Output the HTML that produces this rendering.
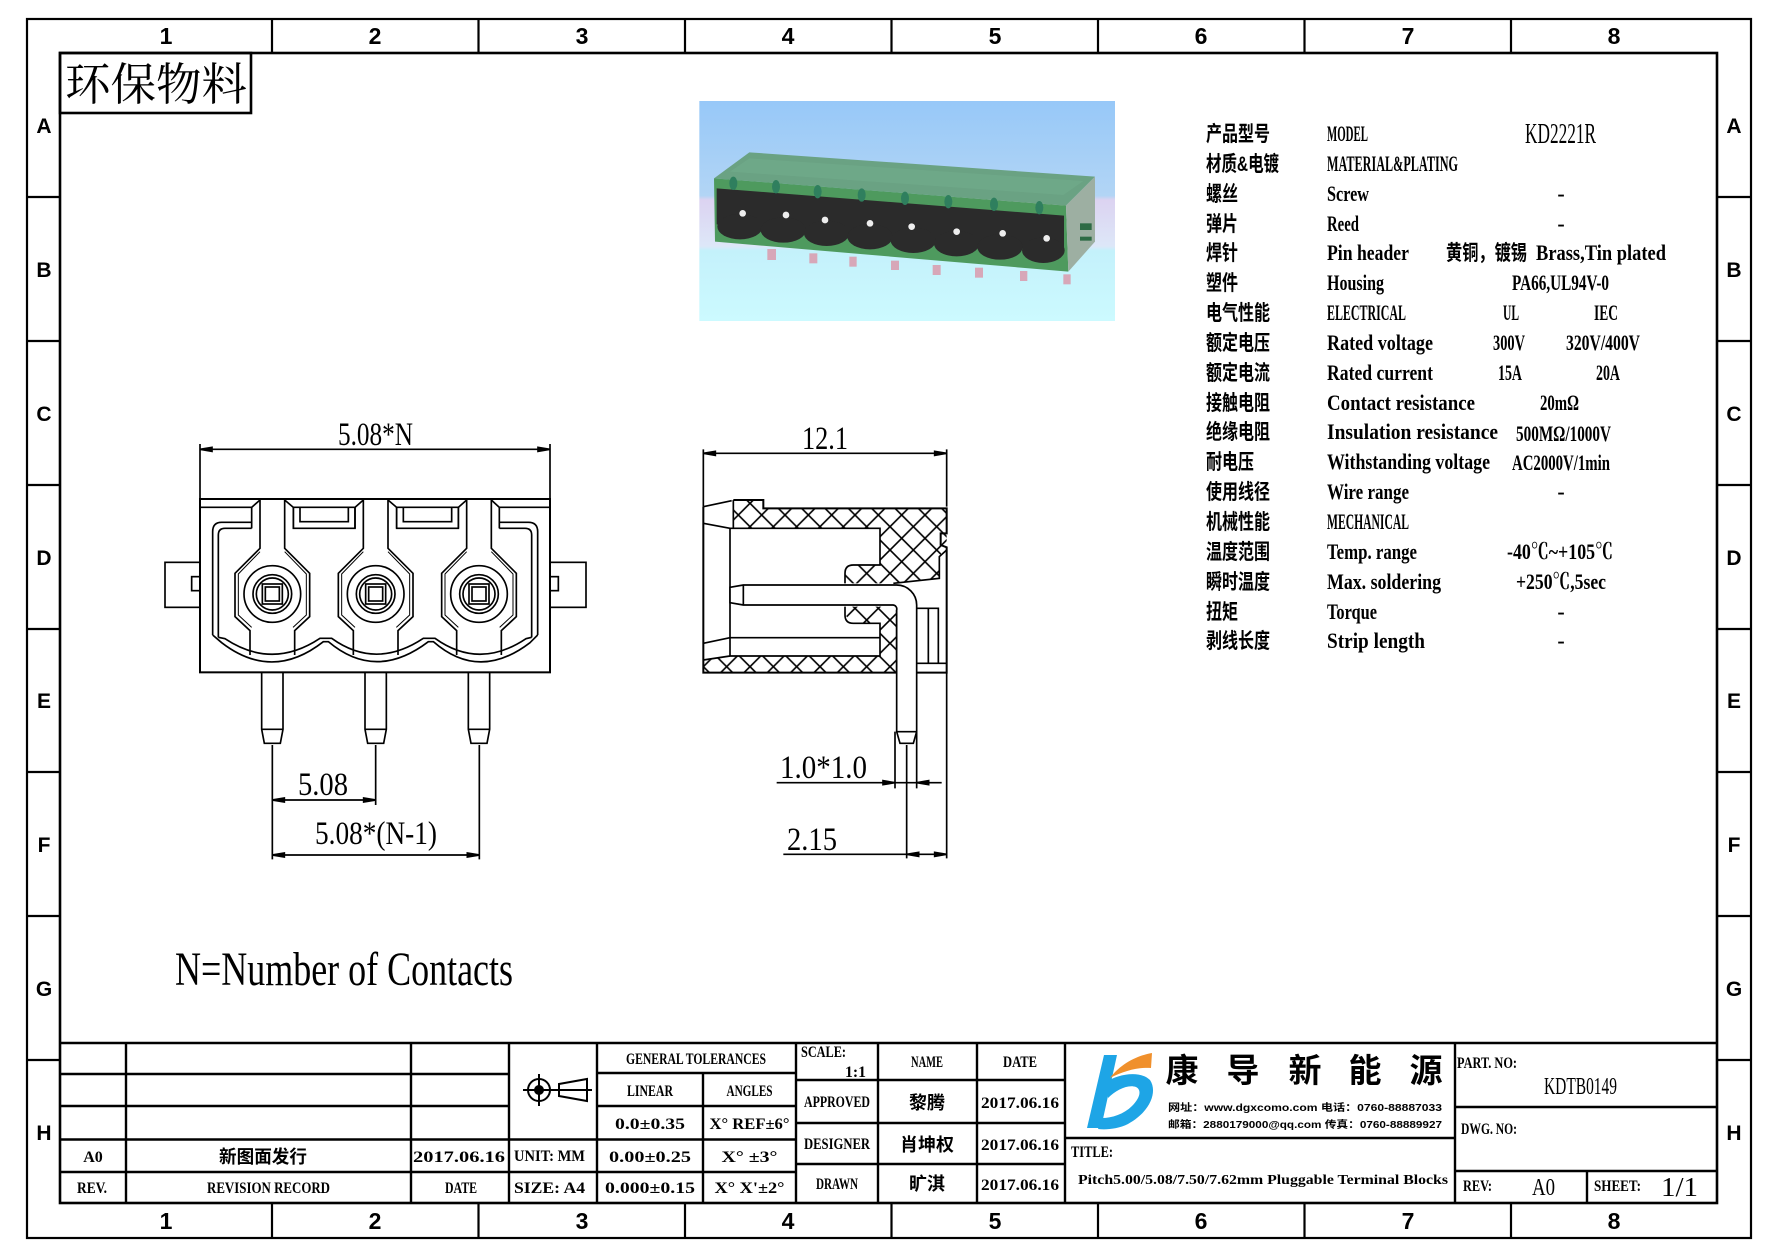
<!DOCTYPE html>
<html><head><meta charset="utf-8"><style>
html,body{margin:0;padding:0;background:#fff;}
svg{display:block;}
.cn{font-family:"Liberation Sans","Noto Sans CJK SC",sans-serif;font-weight:bold;}
.en{font-family:"Liberation Serif","Noto Serif CJK SC",serif;font-weight:bold;}
.lt{font-family:"Liberation Serif","Noto Serif CJK SC",serif;}
.sb{font-family:"Liberation Sans",sans-serif;font-weight:bold;}
</style></head><body>
<svg xmlns="http://www.w3.org/2000/svg" width="1778" height="1257" viewBox="0 0 1778 1257">
<defs>
<pattern id="hx" width="70" height="70" patternUnits="userSpaceOnUse"><path d="M0,0L70,70M70,0L0,70" stroke="#000" stroke-width="5"/></pattern>
<linearGradient id="sky" x1="0" y1="0" x2="0" y2="1">
<stop offset="0" stop-color="#97C8F8"/>
<stop offset="0.43" stop-color="#B2D5F5"/>
<stop offset="0.45" stop-color="#DCD3F1"/>
<stop offset="0.66" stop-color="#DDE7F8"/>
<stop offset="0.68" stop-color="#C4F1FB"/>
<stop offset="1" stop-color="#CCFAFF"/>
</linearGradient>
</defs>
<rect width="1778" height="1257" fill="#fff"/>

<!-- ============ FRAME ============ -->
<g fill="none" stroke="#000">
<rect x="27" y="19" width="1724" height="1219" stroke-width="2.2"/>
<rect x="60" y="53" width="1657" height="1150" stroke-width="2.6"/>
<g stroke-width="2.2">
<path d="M272,19V53M478.5,19V53M685,19V53M891.5,19V53M1098,19V53M1304.5,19V53M1511,19V53"/>
<path d="M272,1203V1238M478.5,1203V1238M685,1203V1238M891.5,1203V1238M1098,1203V1238M1304.5,1203V1238M1511,1203V1238"/>
<path d="M27,197H60M27,341H60M27,485H60M27,629H60M27,772H60M27,916H60M27,1060H60"/>
<path d="M1717,197H1751M1717,341H1751M1717,485H1751M1717,629H1751M1717,772H1751M1717,916H1751M1717,1060H1751"/>
</g>
</g>
<g class="sb" font-size="23" text-anchor="middle">
<text x="166" y="44">1</text><text x="375" y="44">2</text><text x="582" y="44">3</text><text x="788" y="44">4</text>
<text x="995" y="44">5</text><text x="1201" y="44">6</text><text x="1408" y="44">7</text><text x="1614" y="44">8</text>
<text x="166" y="1229">1</text><text x="375" y="1229">2</text><text x="582" y="1229">3</text><text x="788" y="1229">4</text>
<text x="995" y="1229">5</text><text x="1201" y="1229">6</text><text x="1408" y="1229">7</text><text x="1614" y="1229">8</text>
</g>
<g class="sb" font-size="21" text-anchor="middle">
<text x="44" y="133">A</text><text x="44" y="277">B</text><text x="44" y="421">C</text><text x="44" y="565">D</text>
<text x="44" y="708">E</text><text x="44" y="852">F</text><text x="44" y="996">G</text><text x="44" y="1140">H</text>
<text x="1734" y="133">A</text><text x="1734" y="277">B</text><text x="1734" y="421">C</text><text x="1734" y="565">D</text>
<text x="1734" y="708">E</text><text x="1734" y="852">F</text><text x="1734" y="996">G</text><text x="1734" y="1140">H</text>
</g>

<!-- stamp -->
<rect x="60" y="53" width="191" height="60" fill="none" stroke="#000" stroke-width="2.6"/>
<text x="65" y="100" font-size="45" textLength="182" lengthAdjust="spacingAndGlyphs" font-family="'Liberation Serif','Noto Serif CJK SC',serif">环保物料</text>

<!-- ============ PHOTO ============ -->
<g transform="translate(690,95) scale(0.333333)">
<rect x="28" y="18" width="1247" height="660" fill="url(#sky)"/>
<polygon points="72,250 178,172 1215,245 1128,332" fill="#6AA283"/>
<polygon points="120,230 178,190 1180,258 1120,300" fill="#72AB8C" opacity="0.6"/>
<polygon points="72,250 1128,332 1135,530 75,440" fill="#4E9A5E"/>
<polygon points="1128,332 1215,245 1215,440 1135,530" fill="#9DAFA2"/>
<polygon points="80,280 1122,362 1122,470 80,388" fill="#2B2B2B"/>
<g fill="#2B2B2B">
<ellipse cx="150" cy="395" rx="68" ry="38"/><ellipse cx="280" cy="405" rx="68" ry="38"/>
<ellipse cx="410" cy="415" rx="68" ry="38"/><ellipse cx="540" cy="425" rx="68" ry="38"/>
<ellipse cx="670" cy="436" rx="68" ry="38"/><ellipse cx="800" cy="446" rx="68" ry="38"/>
<ellipse cx="930" cy="456" rx="68" ry="38"/><ellipse cx="1060" cy="466" rx="64" ry="38"/>
</g>
<g fill="#2F7F5E">
<ellipse cx="130" cy="265" rx="12" ry="20"/><ellipse cx="258" cy="275" rx="12" ry="20"/>
<ellipse cx="383" cy="290" rx="12" ry="20"/><ellipse cx="515" cy="300" rx="12" ry="20"/>
<ellipse cx="645" cy="310" rx="12" ry="20"/><ellipse cx="775" cy="320" rx="12" ry="20"/>
<ellipse cx="912" cy="328" rx="12" ry="20"/><ellipse cx="1048" cy="338" rx="12" ry="20"/>
</g>
<g fill="#EEEEEE">
<circle cx="158" cy="355" r="10"/><circle cx="288" cy="360" r="10"/><circle cx="405" cy="375" r="10"/>
<circle cx="540" cy="385" r="10"/><circle cx="665" cy="395" r="10"/><circle cx="800" cy="410" r="10"/>
<circle cx="938" cy="415" r="10"/><circle cx="1070" cy="430" r="10"/>
</g>
<g fill="#D7A7B8">
<rect x="232" y="462" width="26" height="33"/><rect x="358" y="475" width="24" height="30"/>
<rect x="478" y="485" width="22" height="30"/><rect x="603" y="497" width="24" height="28"/>
<rect x="728" y="510" width="24" height="30"/><rect x="855" y="518" width="24" height="30"/>
<rect x="990" y="528" width="22" height="30"/><rect x="1120" y="538" width="22" height="30"/>
</g>
<rect x="1170" y="385" width="35" height="20" fill="#2E6B45"/>
<rect x="1170" y="425" width="35" height="12" fill="#2E6B45"/>
</g>

<!-- ============ LEFT DRAWING ============ -->
<g transform="translate(150,420) scale(0.333333)" fill="none" stroke="#000" stroke-width="5">
<path d="M150,72V237M1200,72V237M150,88H1200"/>
<path d="M150,88l36,-6v12zM1200,88l-36,-6v12z" fill="#000"/>
<rect x="150" y="237" width="1050" height="520" stroke-width="6"/>
<rect x="45" y="427" width="105" height="135"/>
<rect x="125" y="470" width="25" height="42"/>
<rect x="1200" y="427" width="108" height="135"/>
<rect x="1200" y="470" width="25" height="42"/>
<!-- top strip -->
<path d="M150,262H305M1048,262H1200"/>
<path d="M430,262H615V325H430ZM740,262H925V325H740Z"/>
<path d="M450,262V305H595V262M760,262V305H905V262"/>
<path d="M305,262V325M430,262V325M615,262V325M740,262V325M925,262V325M1048,262V325"/>
<path d="M305,262L330,240M430,262L404,240M615,262L640,240M740,262L714,240M925,262L950,240M1048,262L1024,240"/>
<!-- housing inner outline -->
<path d="M305,307H215Q188,307 188,335V645"/>
<path d="M305,325H225Q205,325 205,345V652"/>
<path d="M1048,307H1135Q1163,307 1163,335V645"/>
<path d="M1048,325H1125Q1145,325 1145,345V652"/>
<path d="M188,645L215,668Q367,785 520,665H535Q677,785 835,665H850Q987,785 1140,668L1163,645"/>
<path d="M205,652L225,656Q367,750 510,655H545Q677,750 820,655H855Q987,750 1128,656L1145,652"/>
<!-- terminals -->
<g id="t1">
<path d="M330,237V385L255,460V590L300,632V705M404,237V385L479,460V590L434,632V705"/>
<path d="M330,395L265,462V585L305,622M404,395L469,462V585L429,622" stroke-width="3"/>
<circle cx="367" cy="522" r="85"/><circle cx="367" cy="522" r="58"/><circle cx="367" cy="522" r="48"/>
<rect x="337" y="492" width="60" height="60"/><rect x="346" y="501" width="42" height="42"/>
</g>
<use href="#t1" x="310"/><use href="#t1" x="620"/>
<!-- pins -->
<path d="M335,757V928L343,970H391L399,928V757M335,928H399"/>
<path d="M645,757V928L653,970H701L709,928V757M645,928H709"/>
<path d="M955,757V928L963,970H1011L1019,928V757M955,928H1019"/>
<!-- dims -->
<path d="M367,975V1318M677,975V1155M988,975V1318M367,1140H677M367,1305H988"/>
<path d="M367,1140l36,-6v12zM677,1140l-36,-6v12zM367,1305l36,-6v12zM988,1305l-36,-6v12z" fill="#000"/>
</g>
<g class="lt" font-size="33">
<text x="338" y="445" textLength="75" lengthAdjust="spacingAndGlyphs">5.08*N</text>
<text x="298" y="795" textLength="50" lengthAdjust="spacingAndGlyphs">5.08</text>
<text x="315" y="844" textLength="122" lengthAdjust="spacingAndGlyphs">5.08*(N-1)</text>
</g>

<!-- ============ MIDDLE DRAWING ============ -->
<g transform="translate(680,410) scale(0.333333)" fill="none" stroke="#000" stroke-width="5">
<path d="M70,118V290M800,118V290M70,130H800"/>
<path d="M70,130l36,-6v12zM800,130l-36,-6v12z" fill="#000"/>
<!-- hatched regions -->
<polygon points="160,270 250,270 250,295 800,295 800,400 778,440 778,505 640,520 495,520 495,490 520,465 600,465 600,355 160,355" fill="url(#hx)" stroke="none"/>
<polygon points="495,590 645,590 650,600 650,788 70,788 70,750 150,738 600,738 600,640 520,640 495,615" fill="url(#hx)" stroke="none"/>
<!-- outlines -->
<path d="M160,270H250V295H800V370H782V405L800,412V788H70V290" stroke-width="6"/>
<path d="M160,270V355M70,290L155,272M70,340L150,355"/>
<path d="M70,700L150,683M70,750L150,738"/>
<path d="M150,355H600V465H520Q495,465 495,490V520M150,355V738H600V640H520Q495,640 495,615V590"/>
<path d="M150,683H600"/>
<path d="M640,520L778,505V440L800,420"/>
<path d="M650,600V788"/>
<!-- pin -->
<path d="M150,532L190,525H650A60,60 0 0 1 710,585V965L700,1000H660L650,965V600A12,12 0 0 0 638,585H190L150,578Z" fill="#fff"/>
<path d="M190,525V585M650,965H710"/>
<!-- right inner -->
<path d="M710,595H775V760M745,595V760M710,760H800"/>
<!-- dims -->
<path d="M645,965V1135M710,965V1135M290,1118H785"/>
<path d="M645,1118l-36,-6v12zM710,1118l36,-6v12z" fill="#000"/>
<path d="M680,1005V1345M800,790V1345M310,1333H800"/>
<path d="M680,1333l36,-6v12zM800,1333l-36,-6v12z" fill="#000"/>
</g>
<g class="lt" font-size="33">
<text x="802" y="449" textLength="46" lengthAdjust="spacingAndGlyphs">12.1</text>
<text x="780" y="778" textLength="87" lengthAdjust="spacingAndGlyphs">1.0*1.0</text>
<text x="787" y="850" textLength="50" lengthAdjust="spacingAndGlyphs">2.15</text>
</g>

<text class="lt" x="175" y="985" font-size="48" textLength="338" lengthAdjust="spacingAndGlyphs">N=Number of Contacts</text>

<!-- ============ SPEC TABLE ============ -->
<g class="cn" font-size="21">
<text x="1206" y="141" textLength="64" lengthAdjust="spacingAndGlyphs">产品型号</text>
<text x="1206" y="171" textLength="73" lengthAdjust="spacingAndGlyphs">材质&amp;电镀</text>
<text x="1206" y="201" textLength="32" lengthAdjust="spacingAndGlyphs">螺丝</text>
<text x="1206" y="231" textLength="32" lengthAdjust="spacingAndGlyphs">弹片</text>
<text x="1206" y="260" textLength="32" lengthAdjust="spacingAndGlyphs">焊针</text>
<text x="1206" y="290" textLength="32" lengthAdjust="spacingAndGlyphs">塑件</text>
<text x="1206" y="320" textLength="64" lengthAdjust="spacingAndGlyphs">电气性能</text>
<text x="1206" y="350" textLength="64" lengthAdjust="spacingAndGlyphs">额定电压</text>
<text x="1206" y="380" textLength="64" lengthAdjust="spacingAndGlyphs">额定电流</text>
<text x="1206" y="410" textLength="64" lengthAdjust="spacingAndGlyphs">接触电阻</text>
<text x="1206" y="439" textLength="64" lengthAdjust="spacingAndGlyphs">绝缘电阻</text>
<text x="1206" y="469" textLength="48" lengthAdjust="spacingAndGlyphs">耐电压</text>
<text x="1206" y="499" textLength="64" lengthAdjust="spacingAndGlyphs">使用线径</text>
<text x="1206" y="529" textLength="64" lengthAdjust="spacingAndGlyphs">机械性能</text>
<text x="1206" y="559" textLength="64" lengthAdjust="spacingAndGlyphs">温度范围</text>
<text x="1206" y="589" textLength="64" lengthAdjust="spacingAndGlyphs">瞬时温度</text>
<text x="1206" y="619" textLength="32" lengthAdjust="spacingAndGlyphs">扭矩</text>
<text x="1206" y="648" textLength="64" lengthAdjust="spacingAndGlyphs">剥线长度</text>
<text x="1446" y="260" textLength="81" lengthAdjust="spacingAndGlyphs">黄铜，镀锡</text>
</g>
<g class="en" font-size="22">
<text x="1327" y="141" textLength="41" lengthAdjust="spacingAndGlyphs">MODEL</text>
<text x="1327" y="171" textLength="131" lengthAdjust="spacingAndGlyphs">MATERIAL&amp;PLATING</text>
<text x="1327" y="201" textLength="42" lengthAdjust="spacingAndGlyphs">Screw</text>
<text x="1327" y="231" textLength="32" lengthAdjust="spacingAndGlyphs">Reed</text>
<text x="1327" y="260" textLength="82" lengthAdjust="spacingAndGlyphs">Pin header</text>
<text x="1327" y="290" textLength="57" lengthAdjust="spacingAndGlyphs">Housing</text>
<text x="1327" y="320" textLength="79" lengthAdjust="spacingAndGlyphs">ELECTRICAL</text>
<text x="1327" y="350" textLength="106" lengthAdjust="spacingAndGlyphs">Rated voltage</text>
<text x="1327" y="380" textLength="106" lengthAdjust="spacingAndGlyphs">Rated current</text>
<text x="1327" y="410" textLength="148" lengthAdjust="spacingAndGlyphs">Contact resistance</text>
<text x="1327" y="439" textLength="171" lengthAdjust="spacingAndGlyphs">Insulation resistance</text>
<text x="1327" y="469" textLength="163" lengthAdjust="spacingAndGlyphs">Withstanding voltage</text>
<text x="1327" y="499" textLength="82" lengthAdjust="spacingAndGlyphs">Wire range</text>
<text x="1327" y="529" textLength="82" lengthAdjust="spacingAndGlyphs">MECHANICAL</text>
<text x="1327" y="559" textLength="90" lengthAdjust="spacingAndGlyphs">Temp. range</text>
<text x="1327" y="589" textLength="114" lengthAdjust="spacingAndGlyphs">Max. soldering</text>
<text x="1327" y="619" textLength="50" lengthAdjust="spacingAndGlyphs">Torque</text>
<text x="1327" y="648" textLength="98" lengthAdjust="spacingAndGlyphs">Strip length</text>

<text x="1536" y="260" textLength="130" lengthAdjust="spacingAndGlyphs">Brass,Tin plated</text>
<text x="1512" y="290" textLength="97" lengthAdjust="spacingAndGlyphs">PA66,UL94V-0</text>
<text x="1503" y="320" textLength="16" lengthAdjust="spacingAndGlyphs">UL</text>
<text x="1594" y="320" textLength="24" lengthAdjust="spacingAndGlyphs">IEC</text>
<text x="1493" y="350" textLength="32" lengthAdjust="spacingAndGlyphs">300V</text>
<text x="1566" y="350" textLength="74" lengthAdjust="spacingAndGlyphs">320V/400V</text>
<text x="1498" y="380" textLength="24" lengthAdjust="spacingAndGlyphs">15A</text>
<text x="1596" y="380" textLength="24" lengthAdjust="spacingAndGlyphs">20A</text>
<text x="1540" y="410" textLength="39" lengthAdjust="spacingAndGlyphs">20mΩ</text>
<text x="1516" y="441" textLength="95" lengthAdjust="spacingAndGlyphs">500MΩ/1000V</text>
<text x="1512" y="470" textLength="98" lengthAdjust="spacingAndGlyphs">AC2000V/1min</text>
<text x="1507" y="559" textLength="106" lengthAdjust="spacingAndGlyphs">-40℃~+105℃</text>
<text x="1516" y="589" textLength="90" lengthAdjust="spacingAndGlyphs">+250℃,5sec</text>
<g text-anchor="middle">
<text x="1561" y="201">-</text><text x="1561" y="231">-</text><text x="1561" y="499">-</text>
<text x="1561" y="619">-</text><text x="1561" y="648">-</text>
</g>
</g>
<text class="lt" x="1525" y="143" font-size="28" textLength="71" lengthAdjust="spacingAndGlyphs">KD2221R</text>

<!-- ============ TITLE BLOCK ============ -->
<g fill="none" stroke="#000" stroke-width="2.4">
<path d="M60,1043H1717"/>
<path d="M60,1074H509M597,1073H796M60,1106H509M597,1106H796M60,1139.5H796M60,1172H796"/>
<path d="M126,1043V1203M411,1043V1203M509,1043V1203M597,1043V1203M703,1073V1203M796,1043V1203M878,1043V1203M977,1043V1203M1065,1043V1203M1455,1043V1203M1587,1171V1203"/>
<path d="M796,1080H1065M796,1123H1065M796,1164H1065"/>
<path d="M1065,1138H1455M1455,1107H1717M1455,1171H1717"/>
</g>
<!-- projection symbol -->
<g fill="none" stroke="#000" stroke-width="2">
<circle cx="539" cy="1090" r="11"/>
<path d="M523,1090H555M539,1074V1106"/>
<path d="M559,1084L587,1079V1101L559,1096Z"/>
<path d="M553,1090H592M587,1079V1101"/>
</g>
<circle cx="539" cy="1090" r="5" fill="#000"/>

<g class="en" font-size="16">
<text x="93" y="1162" text-anchor="middle">A0</text>
<text x="413" y="1162" textLength="92" lengthAdjust="spacingAndGlyphs">2017.06.16</text>
<text x="92" y="1193" text-anchor="middle" textLength="30" lengthAdjust="spacingAndGlyphs">REV.</text>
<text x="207" y="1193" textLength="123" lengthAdjust="spacingAndGlyphs">REVISION RECORD</text>
<text x="461" y="1193" text-anchor="middle" textLength="32" lengthAdjust="spacingAndGlyphs">DATE</text>
<text x="514" y="1161" textLength="71" lengthAdjust="spacingAndGlyphs">UNIT: MM</text>
<text x="514" y="1193" textLength="71" lengthAdjust="spacingAndGlyphs">SIZE: A4</text>
<text x="626" y="1064" textLength="140" lengthAdjust="spacingAndGlyphs">GENERAL TOLERANCES</text>
<text x="650" y="1096" text-anchor="middle" textLength="46" lengthAdjust="spacingAndGlyphs">LINEAR</text>
<text x="749.5" y="1096" text-anchor="middle" textLength="46" lengthAdjust="spacingAndGlyphs">ANGLES</text>
<text x="650" y="1129" text-anchor="middle" textLength="70" lengthAdjust="spacingAndGlyphs">0.0±0.35</text>
<text x="749.5" y="1129" text-anchor="middle" textLength="80" lengthAdjust="spacingAndGlyphs">X° REF±6°</text>
<text x="650" y="1162" text-anchor="middle" textLength="82" lengthAdjust="spacingAndGlyphs">0.00±0.25</text>
<text x="749.5" y="1162" text-anchor="middle" textLength="56" lengthAdjust="spacingAndGlyphs">X° ±3°</text>
<text x="650" y="1193" text-anchor="middle" textLength="90" lengthAdjust="spacingAndGlyphs">0.000±0.15</text>
<text x="749.5" y="1193" text-anchor="middle" textLength="70" lengthAdjust="spacingAndGlyphs">X° X'±2°</text>
<text x="801" y="1057" textLength="45" lengthAdjust="spacingAndGlyphs">SCALE:</text>
<text x="845" y="1077" textLength="21" lengthAdjust="spacingAndGlyphs">1:1</text>
<text x="927" y="1067" text-anchor="middle" textLength="32" lengthAdjust="spacingAndGlyphs">NAME</text>
<text x="1020" y="1067" text-anchor="middle" textLength="34" lengthAdjust="spacingAndGlyphs">DATE</text>
<text x="837" y="1107" text-anchor="middle" textLength="66" lengthAdjust="spacingAndGlyphs">APPROVED</text>
<text x="837" y="1149" text-anchor="middle" textLength="66" lengthAdjust="spacingAndGlyphs">DESIGNER</text>
<text x="837" y="1189" text-anchor="middle" textLength="42" lengthAdjust="spacingAndGlyphs">DRAWN</text>
<text x="1020" y="1108" text-anchor="middle" textLength="78" lengthAdjust="spacingAndGlyphs">2017.06.16</text>
<text x="1020" y="1150" text-anchor="middle" textLength="78" lengthAdjust="spacingAndGlyphs">2017.06.16</text>
<text x="1020" y="1190" text-anchor="middle" textLength="78" lengthAdjust="spacingAndGlyphs">2017.06.16</text>
<text x="1071" y="1157" textLength="42" lengthAdjust="spacingAndGlyphs">TITLE:</text>
<text x="1078" y="1184" font-size="14" textLength="370" lengthAdjust="spacingAndGlyphs">Pitch5.00/5.08/7.50/7.62mm Pluggable Terminal Blocks</text>
<text x="1457" y="1068" textLength="60" lengthAdjust="spacingAndGlyphs">PART. NO:</text>
<text x="1461" y="1134" textLength="56" lengthAdjust="spacingAndGlyphs">DWG. NO:</text>
<text x="1463" y="1191" textLength="29" lengthAdjust="spacingAndGlyphs">REV:</text>
<text x="1594" y="1191" textLength="47" lengthAdjust="spacingAndGlyphs">SHEET:</text>
</g>
<g class="cn" font-size="18" text-anchor="middle">
<text x="263" y="1163" textLength="88" lengthAdjust="spacingAndGlyphs">新图面发行</text>
<text x="927" y="1109">黎腾</text>
<text x="927" y="1151">肖坤权</text>
<text x="927" y="1190">旷淇</text>
</g>
<g class="lt">
<text x="1544" y="1094" font-size="24" textLength="73" lengthAdjust="spacingAndGlyphs">KDTB0149</text>
<text x="1532" y="1195" font-size="24" textLength="23" lengthAdjust="spacingAndGlyphs">A0</text>
<text x="1661" y="1196" font-size="27" textLength="37" lengthAdjust="spacingAndGlyphs">1/1</text>
</g>

<!-- logo -->
<path d="M1104,1055H1117L1101,1128H1087Z" fill="#1EA5E6"/>
<path d="M1106,1082C1118,1074 1140,1070 1150,1080C1158,1092 1150,1112 1128,1124C1118,1129 1106,1130 1098,1129L1102,1118C1112,1118 1124,1114 1132,1106C1140,1098 1142,1090 1136,1087C1128,1084 1116,1090 1108,1098Z" fill="#1EA5E6"/>
<path d="M1110,1078C1122,1062 1140,1055 1152,1053L1151,1068C1138,1067 1124,1071 1110,1078Z" fill="#F0902C"/>
<g class="cn" font-size="33" text-anchor="middle">
<text x="1182" y="1082">康</text><text x="1243" y="1082">导</text><text x="1305" y="1082">新</text>
<text x="1365" y="1082">能</text><text x="1426" y="1082">源</text>
</g>
<g class="cn" font-size="10">
<text x="1168" y="1111" textLength="274" lengthAdjust="spacingAndGlyphs">网址：www.dgxcomo.com   电话：0760-88887033</text>
<text x="1168" y="1128" textLength="274" lengthAdjust="spacingAndGlyphs">邮箱：2880179000@qq.com 传真：0760-88889927</text>
</g>
</svg>
</body></html>
